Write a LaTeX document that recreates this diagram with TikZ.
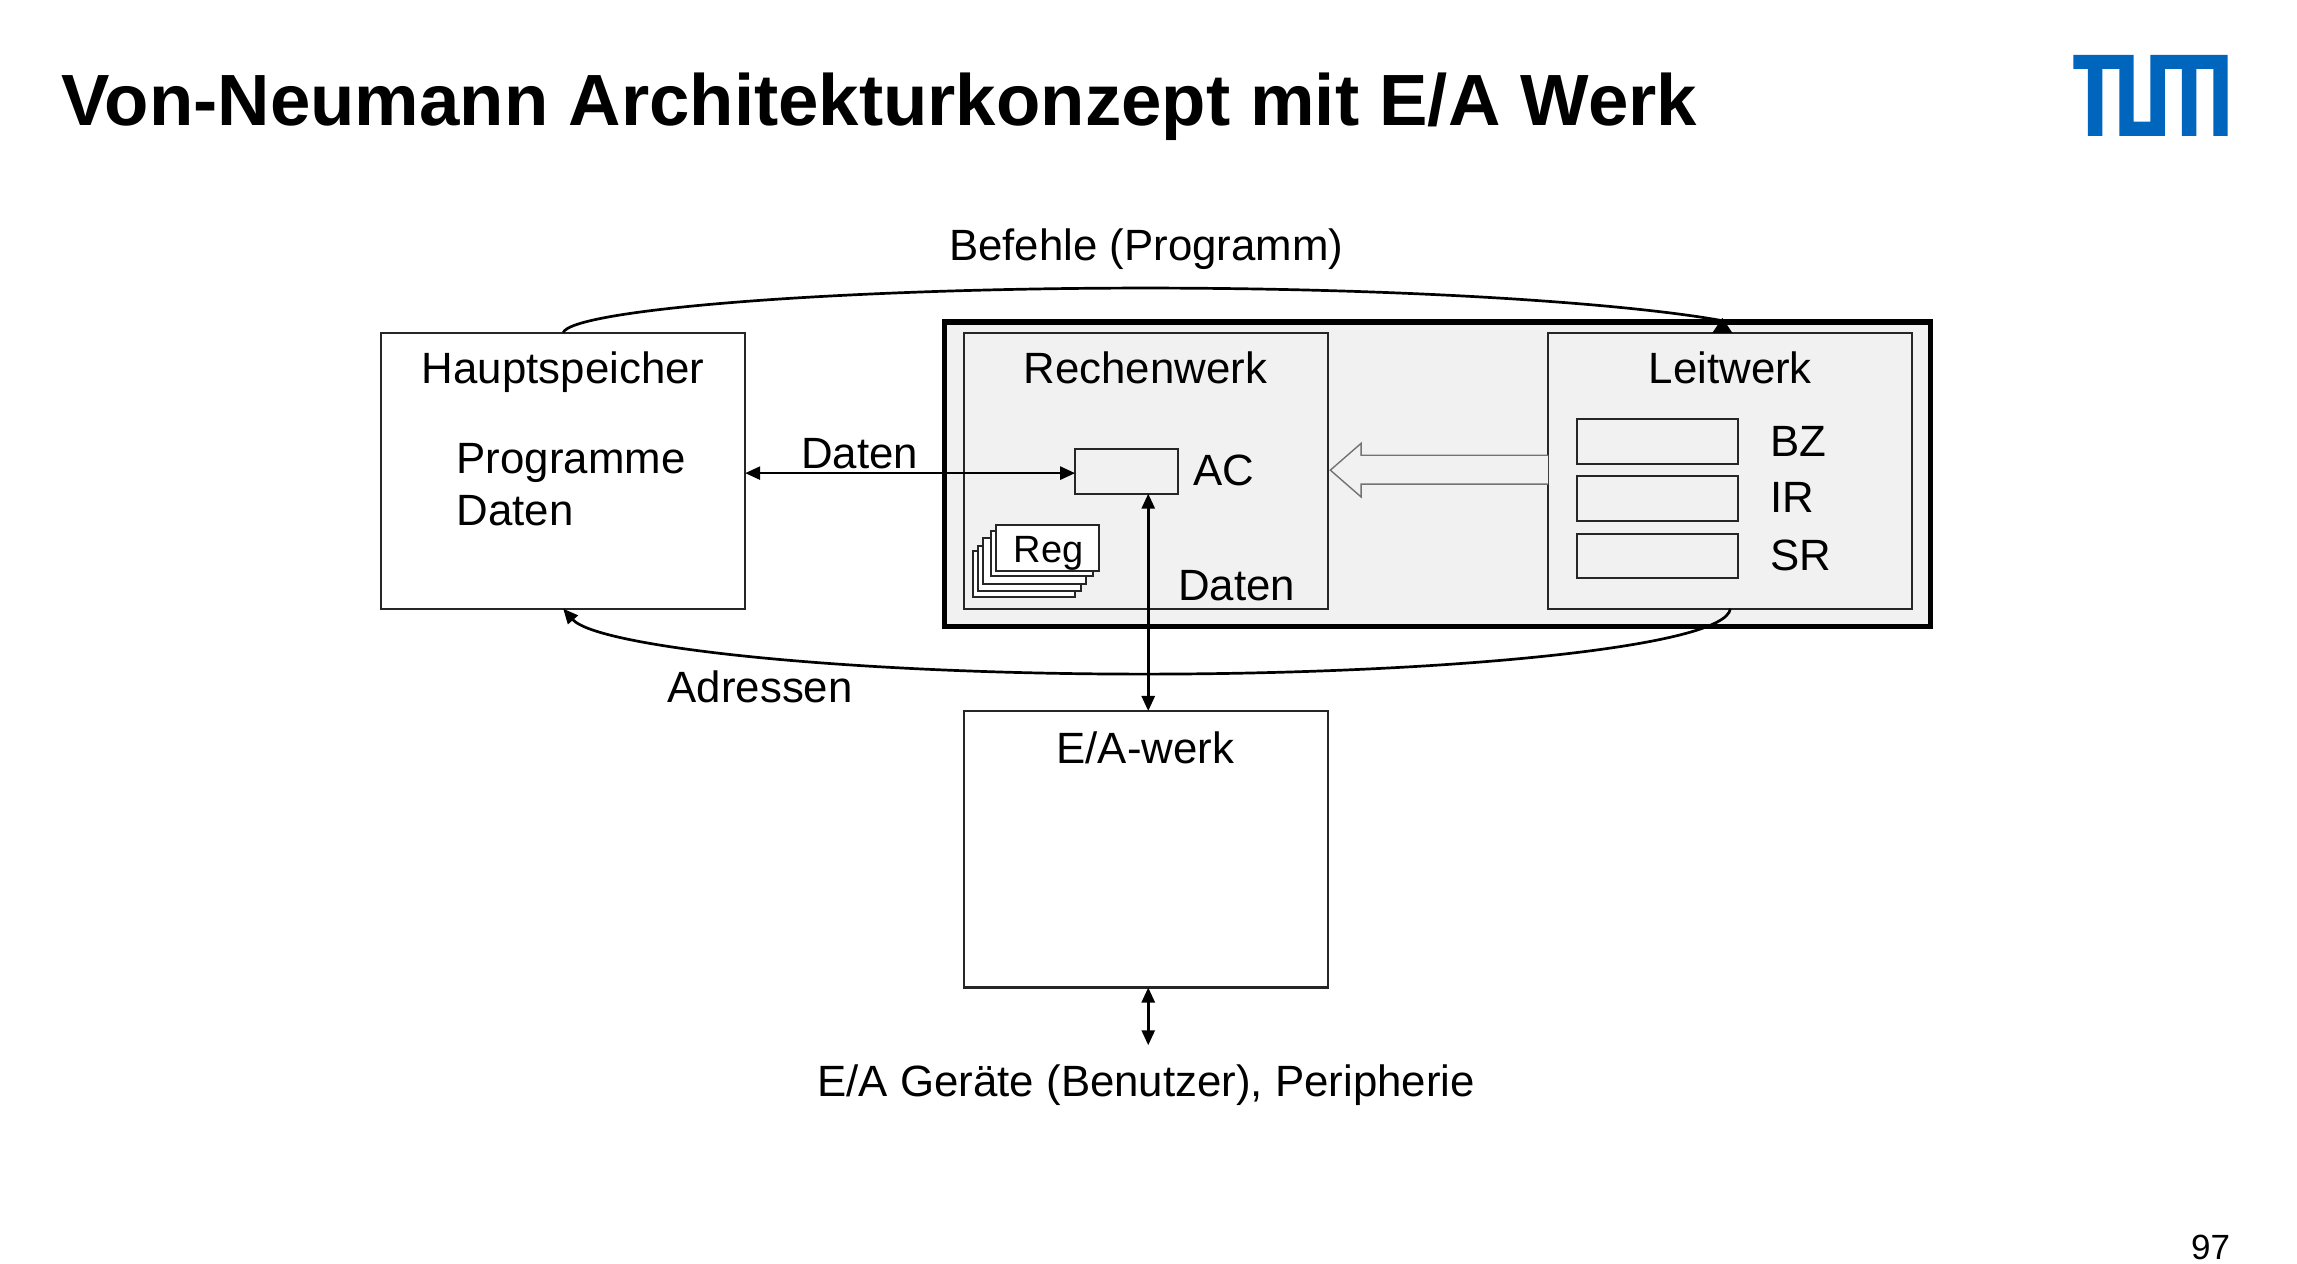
\documentclass[tikz,border=0pt]{standalone}
\usepackage{fontspec}
\setmainfont{Liberation Sans}
\usetikzlibrary{arrows.meta}
\tikzset{
  x=0.995pt,y=-0.995pt,
  box/.style={draw=black!85,line width=2pt,fill=#1,inner sep=0pt,outer sep=0pt},
  box/.default=panelgray,
  lbl/.style={anchor=base,inner sep=0pt,outer sep=0pt,font=\fontsize{43.8}{50}\selectfont},
  lbll/.style={lbl,anchor=base west},
  conn/.style={draw=black,line width=2.7pt,-{Triangle[length=15pt,width=13pt]}},
  dconn/.style={draw=black,line width=2.7pt,{Triangle[length=15pt,width=13pt]}-{Triangle[length=15pt,width=13pt]}},
  curveline/.style={draw=black,line width=2.7pt},
}
\definecolor{panelgray}{HTML}{F1F1F1}
\definecolor{tumblue}{HTML}{0065BD}
\begin{document}
\begin{tikzpicture}
\useasboundingbox (0,0) rectangle (2308.54,1269.35);
\node[anchor=base west,inner sep=0pt,font=\fontsize{72.6}{80}\selectfont\bfseries] (title) at (62,126) {Von-Neumann Architekturkonzept mit E/A Werk};
\node[anchor=base east,inner sep=0pt,font=\fontsize{35}{40}\selectfont] (page) at (2241.5,1266) {97};
% logo
\begin{scope}[shift={(2010,30.15)},x=0.3333pt,y=-0.3333pt]
\fill[tumblue] (220,75) -- (401,75) -- (401,275) -- (451,275) -- (451,75) -- (683,75) -- (683,318) -- (640,318) -- (640,117) -- (589,117) -- (589,318) -- (546,318) -- (546,117) -- (495,117) -- (495,318) -- (358,318) -- (358,117) -- (307,117) -- (307,318) -- (264,318) -- (264,117) -- (220,117) -- cycle;
\end{scope}
\begin{scope}[shift={(0,0.5)}]
% outer frame
\node[draw=black,line width=5.5pt,fill=panelgray,minimum width=986pt,minimum height=304.5pt,inner sep=0pt,outer sep=0pt] (cpu) at (1444.5,476) {};
% boxes
\node[box=white,minimum width=364pt,minimum height=276pt] (haupt) at (566,472.5) {};
\node[box,minimum width=364pt,minimum height=276pt] (rw) at (1152,472.5) {};
\node[box=white,minimum width=364pt,minimum height=276.5pt] (ea) at (1152,853) {};
\node[box,minimum width=364pt,minimum height=276pt] (lw) at (1739,472.5) {};
% curves
\coordinate (topmid) at (1151,289);
\coordinate (botmid) at (1150,677);
\coordinate (lwtop) at (1732,322);
\draw[curveline] (haupt.north) .. controls (575,310) and (850,289) .. (topmid) .. controls (1420,289) and (1640,305) .. (lwtop);
\fill[black] (1731,319) -- (1741,334) -- (1721,334) -- cycle;
\draw[conn] (lw.south) .. controls (1735,650) and (1450,677) .. (botmid) .. controls (850,677) and (600,650) .. (haupt.south);
% hollow arrow
\fill[panelgray] (1337,472) -- (1368,445) -- (1368,457) -- (1556,457) -- (1556,486) -- (1368,486) -- (1368,499) -- cycle;
\draw[draw=black!55,line width=1.4pt] (1556,457) -- (1368,457) -- (1368,445) -- (1337,472) -- (1368,499) -- (1368,486) -- (1556,486);
% AC
\node[box,minimum width=102.5pt,minimum height=45pt] (ac) at (1132,473) {};
% Reg stack
\foreach \dx/\dy/\nm in {-23.5/26.5/ra,-18/20.6/rb,-12.6/13.4/rc,-5.5/5.9/rd}{
  \node[box=white,minimum width=102.5pt,minimum height=45.5pt] (\nm) at (1052.5+\dx,550+\dy) {};
}
\node[box=white,minimum width=102.5pt,minimum height=45.5pt] (reg) at (1052.5,550) {};
\node[lbl,font=\fontsize{38}{44}\selectfont] (regt) at (1054,565) {Reg};
% Leitwerk registers
\node[box,minimum width=161pt,minimum height=45pt] (bz) at (1666,443) {};
\node[box,minimum width=161pt,minimum height=45pt] (ir) at (1666,500.5) {};
\node[box,minimum width=161pt,minimum height=44pt] (sr) at (1666,558.5) {};
% connectors
\coordinate (datay) at (0,475);
\draw[dconn] (haupt.east |- datay) -- (ac.west |- datay);
\draw[dconn] (ac.south -| 1154,0) -- (ea.north -| 1154,0);
\coordinate (geraete) at (1154,1050);
\draw[dconn] (ea.south -| geraete) -- (geraete);
% labels
\node[lbl] (befehle) at (1152,261) {Befehle (Programm)};
\node[lbl] (hs) at (566,385) {Hauptspeicher};
\node[lbll] (prog) at (459,475) {Programme};
\node[lbll] (dat1) at (459,528) {Daten};
\node[lbl] (dat2) at (864,470) {Daten};
\node[lbl] (rwt) at (1151,385) {Rechenwerk};
\node[lbl] (act) at (1230,487) {AC};
\node[lbl] (dat3) at (1243,603) {Daten};
\node[lbl] (lwt) at (1739,385) {Leitwerk};
\node[lbll] (bzt) at (1779,458) {BZ};
\node[lbll] (irt) at (1779,515) {IR};
\node[lbll] (srt) at (1779,573) {SR};
\node[lbl] (adr) at (764,706) {Adressen};
\node[lbl] (eat) at (1151,767) {E/A-werk};
\node[lbl] (ger) at (1152,1101) {E/A Geräte (Benutzer), Peripherie};
\end{scope}
\end{tikzpicture}
\end{document}
